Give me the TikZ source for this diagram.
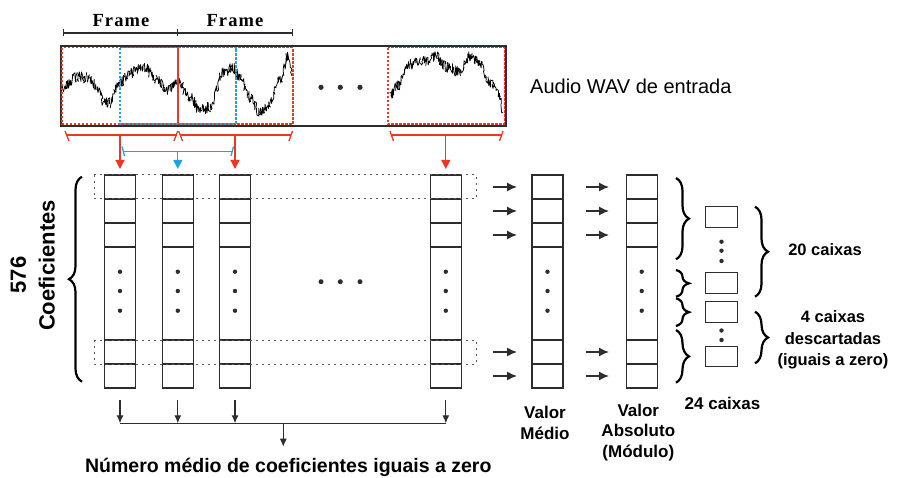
\documentclass[tikz,border=0pt]{standalone}
\usepackage{fontspec}
\setmainfont{Liberation Sans}
\newfontfamily\serifb[LetterSpace=6]{Liberation Serif}
\usetikzlibrary{arrows.meta,decorations.pathreplacing,calc}
\definecolor{fred}{RGB}{235,55,35}
\definecolor{fblue}{RGB}{30,165,225}
\definecolor{dk}{RGB}{45,45,45}
\begin{document}
\begin{tikzpicture}[x=1pt,y=-1pt,
  colbox/.style={draw=dk, line width=1.1pt, minimum width=31pt, minimum height=213pt, inner sep=0pt, outer sep=0pt, anchor=north},
  smallbox/.style={draw=dk, line width=1pt, minimum width=31.5pt, minimum height=20.5pt, inner sep=0pt, outer sep=0pt},
  dotbox/.style={draw=dk!80, line width=1pt, dash pattern=on 2pt off 4pt},
  redbox/.style={draw=fred, line width=1.6pt, dash pattern=on 2.5pt off 1.5pt},
  bluebox/.style={draw=fblue, line width=1.6pt, dash pattern=on 2.5pt off 1.5pt},
  flowarr/.style={draw=dk, line width=1.4pt, -{Latex[length=10pt,width=9pt]}},
  downarr/.style={draw=dk, line width=1.1pt, -{Latex[length=8pt,width=7pt]}},
  colarr/.style={line width=1.3pt, -{Triangle[length=9pt,width=9pt]}, shorten >=6pt},
  brc/.style={draw=black, line width=2.2pt, decorate, decoration={brace, amplitude=13pt}},
  wave/.style={draw=black, line width=0.75pt, line join=round},
  lbl/.style={inner sep=0pt, font=\bfseries\fontsize{17}{20.6}\selectfont, align=center},
  blob/.style={fill=dk}
]
\useasboundingbox (0,0) rectangle (901,478);
\pgfmathsetseed{11}

% ---------- waveform box ----------
\node[draw=dk, line width=2pt, minimum width=445pt, minimum height=80pt, inner sep=0pt] (wav) at (283.5,86) {};
\foreach \xa/\ya/\xb/\yb in {62/88/77/77, 77/77/87/78, 87/78/97/87, 97/87/105/103, 105/103/110/103, 110/103/120/83, 120/83/130/73, 130/73/143/67, 143/67/157/80, 157/80/167/90, 167/90/178/82, 178/82/190/97, 190/97/200/110, 200/110/210/107, 210/107/223/73, 223/73/232/67, 232/67/240/77, 240/77/250/97, 250/97/260/113, 260/113/270/103, 270/103/280/80, 280/80/288/57, 288/57/292/72,
  390/95/398/85, 398/85/408/65, 408/65/420/62, 420/62/437/57, 437/57/447/67, 447/67/460/72, 460/72/470/56, 470/56/480/63, 480/63/490/83, 490/83/500/97, 500/97/503/110} {
  \pgfmathtruncatemacro{\ns}{(\xb-\xa)*2.2+2}
  \draw[wave] plot[domain=0:1, samples=\ns, variable=\t] ({\xa+(\xb-\xa)*\t+0.9*rand}, {\ya+(\yb-\ya)*(1-cos(180*\t))/2+5.5*rand});
}
\draw[redbox] (62,47.7) rectangle (177.7,124);
\draw[redbox] (177.7,47.7) rectangle (293,124);
\draw[bluebox] (120,47.7) rectangle (235.7,124);
\draw[redbox] (387.7,47.7) rectangle (504.3,124);
\foreach \x in {321,340.3,360} \fill[blob] (\x,87.3) circle (2.6pt);

% Frame labels
\draw[dk, line width=1.2pt] (63.3,33) -- (292.7,33);
\foreach \x in {63.3,177.3,292.7} \draw[dk, line width=1.2pt] (\x,29.5) -- (\x,36.5);
\node[font=\serifb\bfseries\fontsize{18.5}{20}\selectfont, inner sep=0pt] (fr1) at (121,20.5) {Frame};
\node[font=\serifb\bfseries\fontsize{18.5}{20}\selectfont, inner sep=0pt] (fr2) at (235,20.5) {Frame};

\node[anchor=west, inner sep=0pt, font=\fontsize{20}{22}\selectfont] (audio) at (530,86) {Audio WAV de entrada};

% red and blue brackets
\draw[fred, line width=1.3pt] (66,135) -- (176.5,135);
\draw[fred, line width=1.3pt] (65,131) -- (69,141) (177.7,131) -- (174,141);
\draw[fred, line width=1.3pt] (179.5,135) -- (290.5,135);
\draw[fred, line width=1.3pt] (178.7,131) -- (182.5,141) (292.5,131) -- (289,141);
\draw[fred, line width=1.3pt] (391,135) -- (502,135);
\draw[fred, line width=1.3pt] (390,131) -- (393.5,141) (503,131) -- (499.5,141);
\draw[fblue, line width=1.3pt] (123,151.7) -- (232.5,151.7);
\draw[fblue, line width=1.3pt] (122,146.5) -- (124.5,156) (233.5,146.5) -- (231,156);
\coordinate (r1) at (120,135);
\coordinate (r2) at (235,135);
\coordinate (r3) at (445.8,135);
\coordinate (bl) at (177.8,151.7);

% ---------- columns ----------
\node[colbox] (c1) at (120,175) {};
\node[colbox] (c2) at (177.8,175) {};
\node[colbox] (c3) at (235,175) {};
\node[colbox] (c4) at (445.8,175) {};
\node[colbox] (vm) at (547.5,175) {};
\node[colbox] (va) at (641.7,175) {};
\foreach \c in {c1,c2,c3,c4,vm,va} {
  \foreach \d in {24,48,72,165,189}
    \draw[dk, line width=1.1pt] ($(\c.north west)+(0,\d)$) -- ($(\c.north east)+(0,\d)$);
  \foreach \d in {96.7,116,135.7}
    \fill[blob] ($(\c.north)+(0,\d)$) circle (2.2pt);
}
\foreach \x in {321,340.3,360} \fill[blob] (\x,281.7) circle (2.5pt);

\draw[dotbox] (94,175) rectangle (476,199);
\draw[dotbox] (94,340) rectangle (476,364);

\draw[colarr, fred] (r1) -- (c1.north);
\draw[colarr, fred] (r2) -- (c3.north);
\draw[colarr, fred] (r3) -- (c4.north);
\draw[colarr, fblue] (bl) -- (c2.north);

% arrows between columns
\foreach \y in {187,211,235,352,376} {
  \draw[flowarr] (493,\y) -- (517,\y);
  \draw[flowarr] (586,\y) -- (609,\y);
}

% left brace and label
\draw[brc] (82,381.7) -- (82,176.7);
\node[rotate=90, inner sep=0pt, font=\bfseries\fontsize{22}{24}\selectfont] (n576) at (18.3,275) {576};
\node[rotate=90, inner sep=0pt, font=\bfseries\fontsize{22}{24}\selectfont] (coef) at (46.7,265.5) {Coeficientes};

% right braces after absolute value
\draw[brc] (676,178) -- (676,259.3);
\draw[brc] (676,270) -- (676,296.7);
\draw[brc] (676,298.3) -- (676,326);
\draw[brc] (676,330) -- (676,382.7);

% small boxes
\node[smallbox] (b1) at (721.5,217.2) {};
\node[smallbox] (b2) at (721.5,283) {};
\node[smallbox] (b3) at (721.5,312.2) {};
\node[smallbox] (b4) at (721.5,356.7) {};
\foreach \y in {241.7,250.7,261} \fill[blob] (721.5,\y) circle (2.2pt);
\foreach \y in {330.5,340} \fill[blob] (721.5,\y) circle (2.2pt);

\draw[brc] (755,206.7) -- (755,296.7);
\draw[brc] (755,311.7) -- (755,363.3);

\node[lbl, font=\bfseries\fontsize{16.5}{21.7}\selectfont] (t20) at (825,250) {20 caixas};
\node[lbl, font=\bfseries\fontsize{16.5}{21.7}\selectfont] (t4) at (833,340) {4 caixas\\descartadas\\(iguais a zero)};
\node[lbl] (t24) at (722.5,403.3) {24 caixas};
\node[lbl] (tvm) at (545,423) {Valor\\Médio};
\node[lbl] (tva) at (638.3,432.3) {Valor\\Absoluto\\(Módulo)};

% bottom collection arrows
\coordinate (h1) at (120,423.3);
\coordinate (h2) at (177.8,423.3);
\coordinate (h3) at (235,423.3);
\coordinate (h4) at (445.8,423.3);
\coordinate (hm) at (283.3,423.3);
\foreach \c/\h in {c1/h1,c2/h2,c3/h3,c4/h4}
  \draw[downarr, shorten <=12pt] (\c.south) -- (\h);
\draw[dk, line width=1.1pt] (h1) -- (h4);
\node[inner sep=0pt, anchor=base, font=\bfseries\fontsize{19.5}{22}\selectfont] (res) at (288.3,472.5) {Número médio de coeficientes iguais a zero};
\draw[downarr] (hm) -- (283.3,446.7);
\end{tikzpicture}
\end{document}
